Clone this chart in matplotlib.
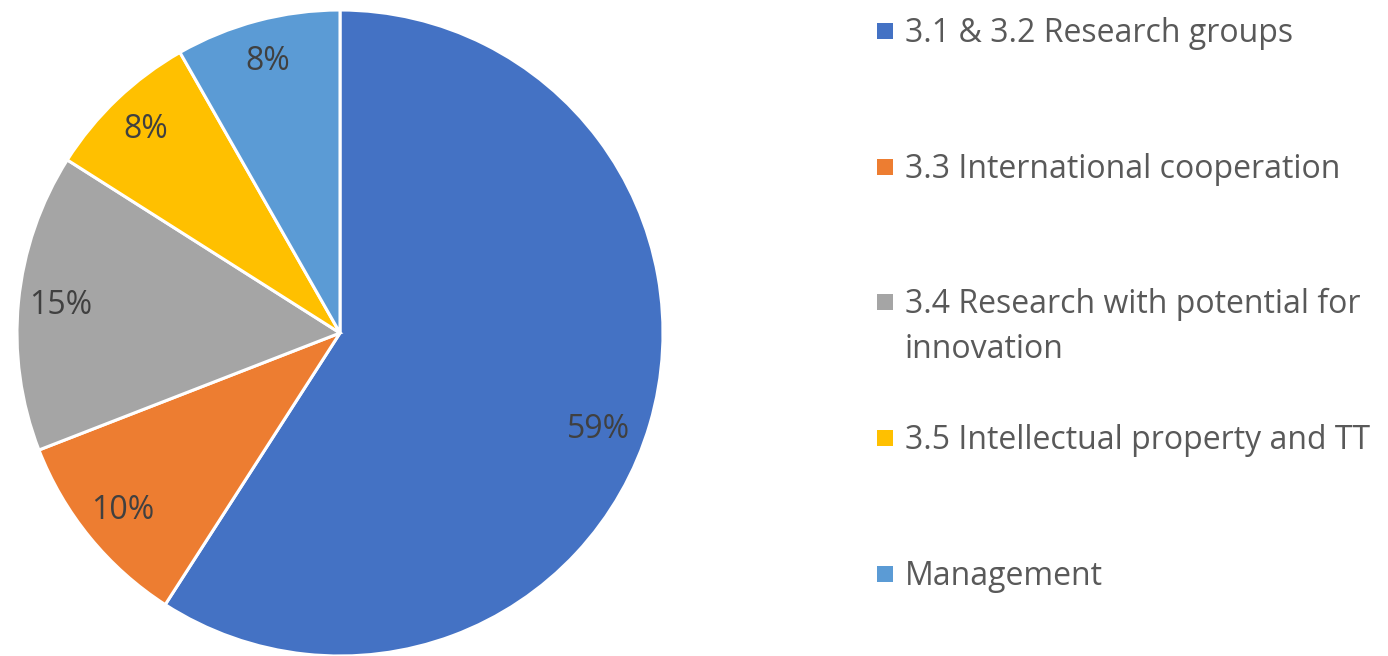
import matplotlib
matplotlib.use("Agg")
import matplotlib.pyplot as plt
from matplotlib.patches import Rectangle

# -------------------------------------------------------
# Data (shares, percent)
# -------------------------------------------------------
labels = ["3.1 & 3.2 Research groups",
          "3.3 International cooperation",
          "3.4 Research with potential for\ninnovation",
          "3.5 Intellectual property and TT",
          "Management"]
shares = [59.1, 10.0, 14.9, 7.75, 8.25]
colors = ["#4472C4", "#ED7D31", "#A5A5A5", "#FFC000", "#5B9BD5"]

W, H = 1388, 656
FONT = "Open Sans"

fig = plt.figure(figsize=(W / 100, H / 100), dpi=100)

# pie centre ~ (340, 333) px, radius ~323 px
cx, cy, r = 340, 333, 323
ax = fig.add_axes([(cx - r) / W, (H - cy - r) / H, 2 * r / W, 2 * r / H])
wedges, _, autotexts = ax.pie(shares, colors=colors, startangle=90, counterclock=False,
                              autopct="%.0f%%", pctdistance=0.87, radius=1.0,
                              wedgeprops=dict(edgecolor="white", linewidth=2.2),
                              textprops=dict(fontsize=23, color="#404040", family=FONT))
# Excel's best-fit puts the big slice label a bit lower/inward
autotexts[0].set_position((0.80, -0.30))
ax.set_xlim(-1, 1)
ax.set_ylim(-1, 1)
ax.set_aspect("equal")
ax.axis("off")

# legend, drawn by hand so the wrapped entry keeps the square on its first line
x_sq, x_txt = 877, 905
base0, step, line_h = 42, 135.7, 45
for i, (lab, col) in enumerate(zip(labels, colors)):
    base = base0 + i * step
    fig.patches.append(Rectangle((x_sq / W, (H - base + 11 - 8) / H), 16 / W, 16 / H,
                                 transform=fig.transFigure, facecolor=col, edgecolor="none"))
    for j, line in enumerate(lab.split("\n")):
        fig.text(x_txt / W, (H - base - j * line_h) / H, line, ha="left", va="baseline",
                 fontsize=23, color="#595959", family=FONT)

fig.savefig("out.png", dpi=100)
